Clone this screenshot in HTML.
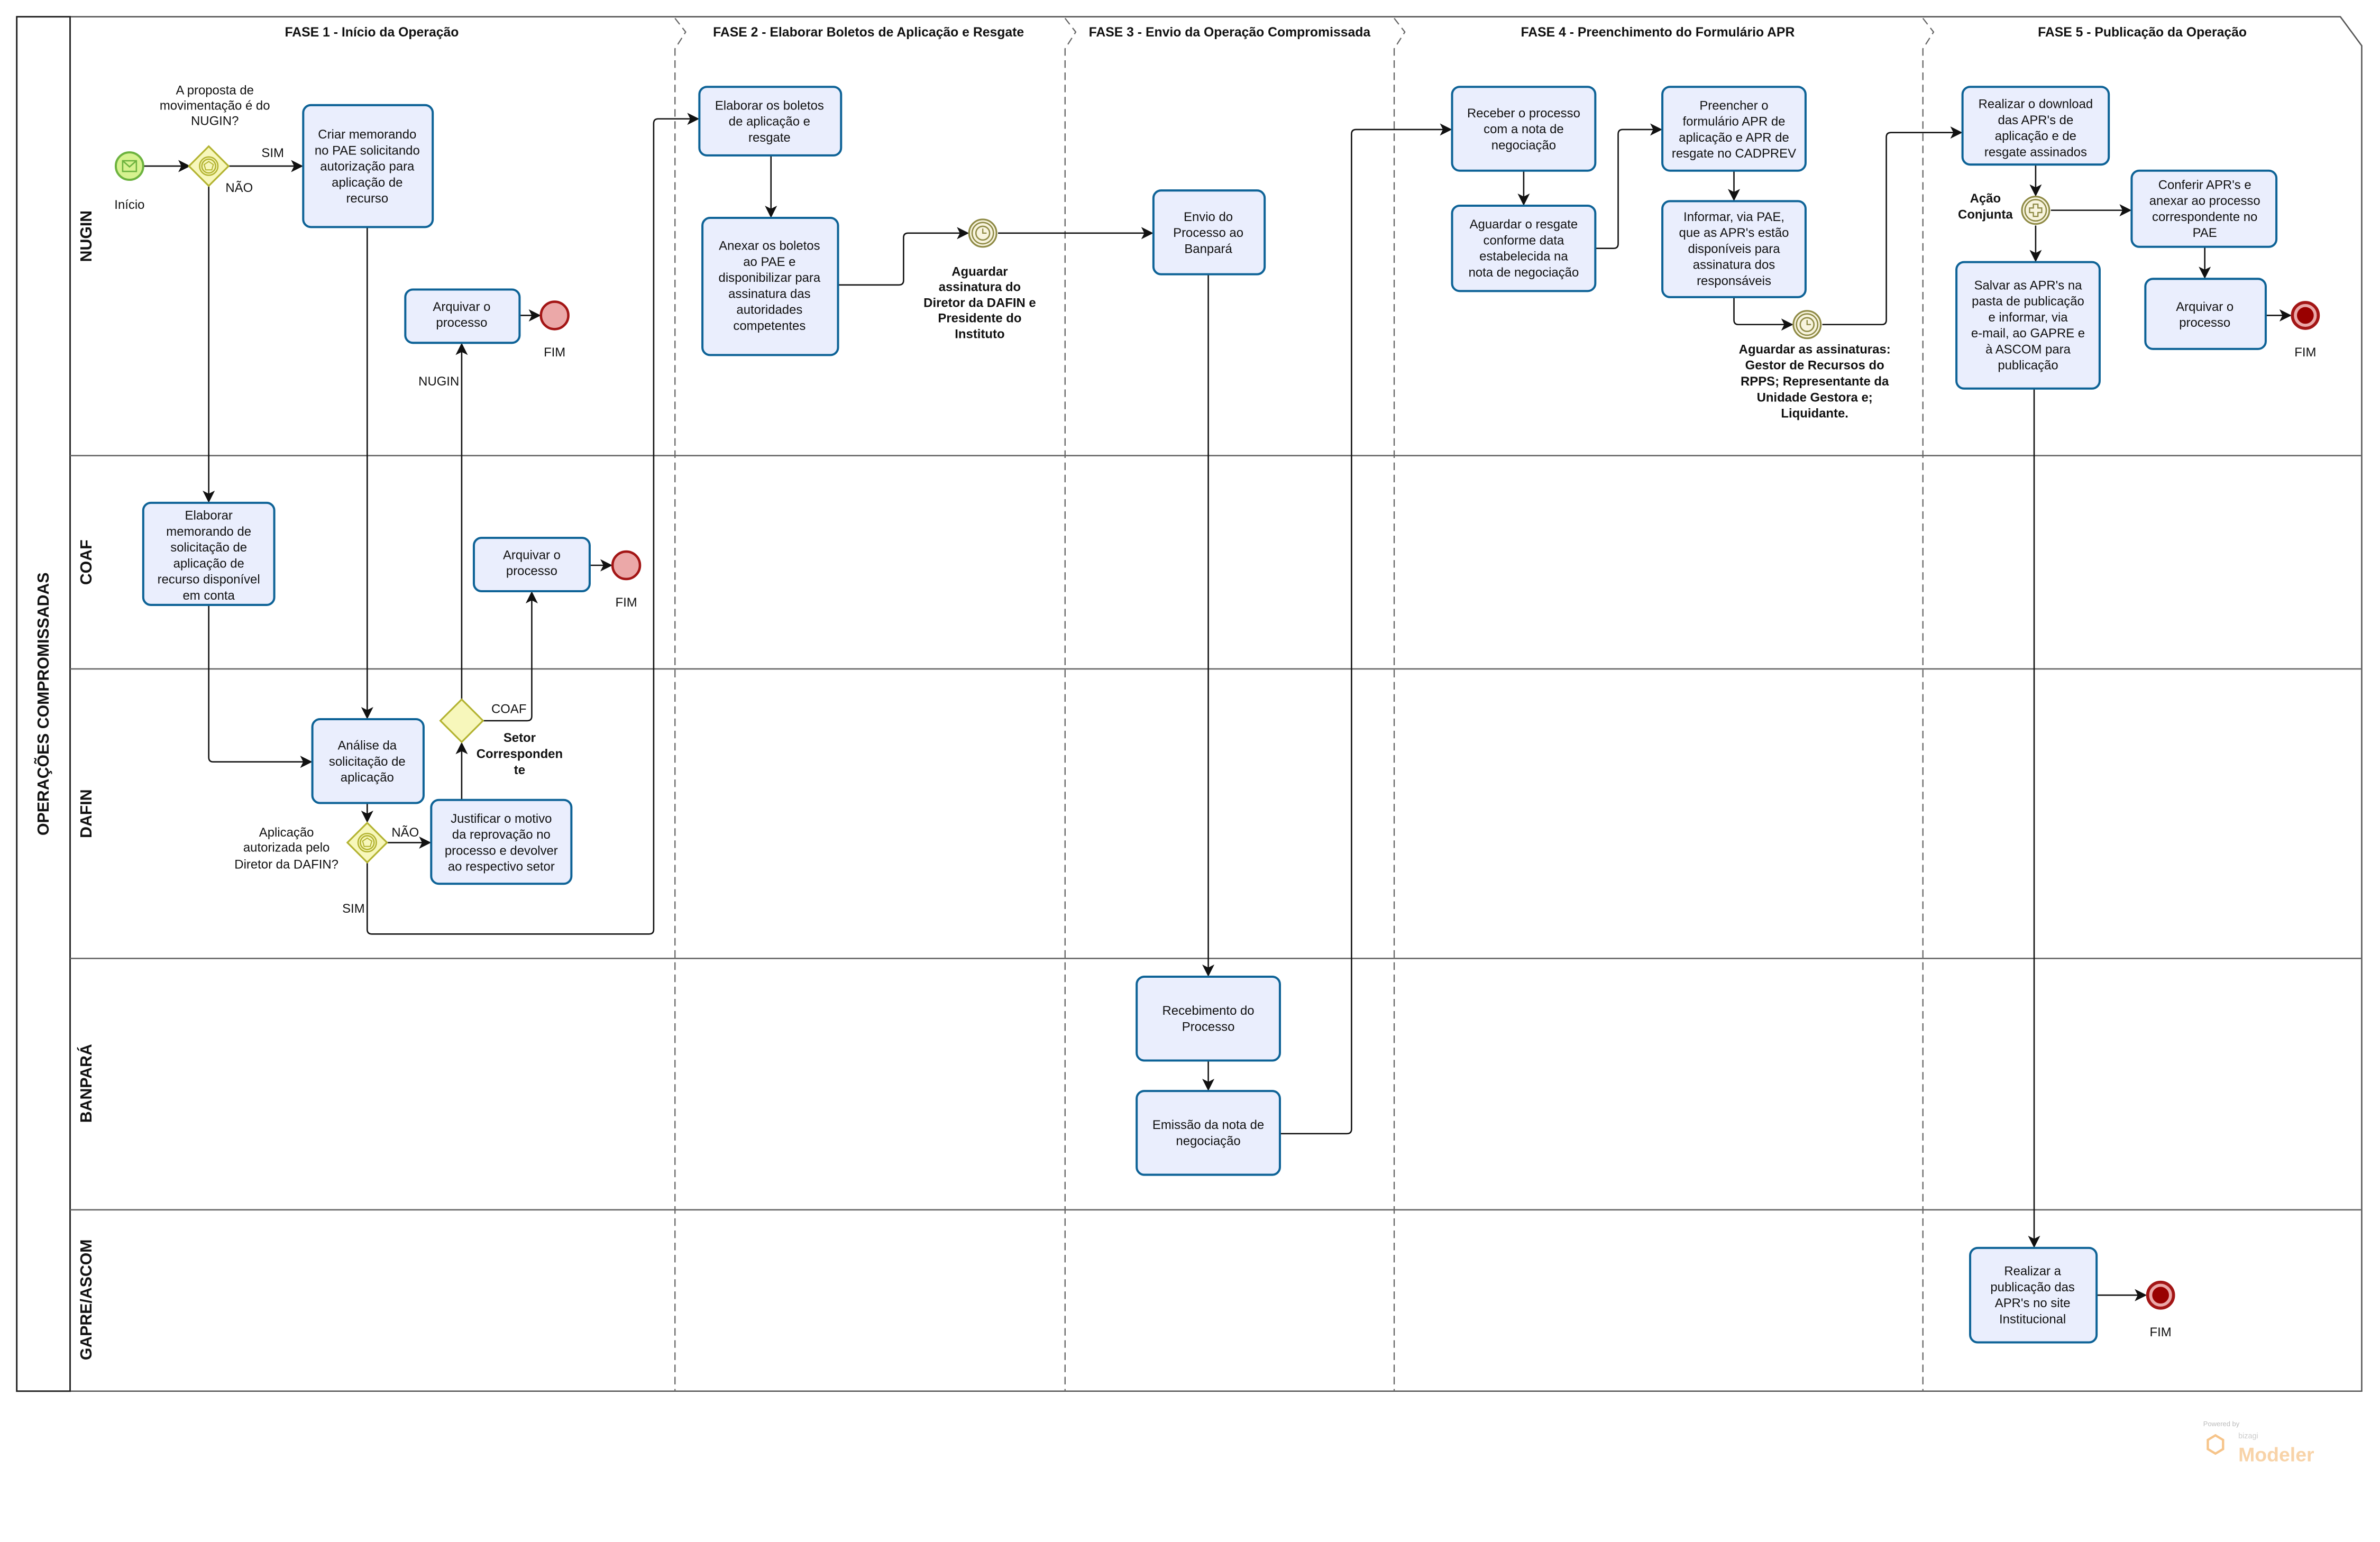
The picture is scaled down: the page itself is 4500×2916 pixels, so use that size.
<!DOCTYPE html>
<html><head><meta charset="utf-8"><style>
html,body{margin:0;padding:0;background:#fff;}
svg{display:block;}
text{font-family:"Liberation Sans",sans-serif;fill:#111;}
.t{font-size:8.3px;text-anchor:middle;}
.b{font-size:8.3px;font-weight:bold;text-anchor:middle;}
.h{font-size:8.6px;font-weight:bold;text-anchor:middle;}
.task{fill:#eaeefd;stroke:#0e6397;stroke-width:1.4;}
.ln{fill:none;stroke:#111;stroke-width:0.9;}
.dash{fill:none;stroke:#666;stroke-width:0.8;stroke-dasharray:5,3;}
.gw{fill:#f7f7bb;stroke:#b3b331;stroke-width:1.1;}
.end{fill:#eba8a8;stroke:#a31515;stroke-width:1.6;}
</style></head><body>
<svg width="4500" height="2916" viewBox="0 0 1562 1012" preserveAspectRatio="none" xmlns="http://www.w3.org/2000/svg">
<defs><marker id="a" markerWidth="8" markerHeight="8" refX="7" refY="4" orient="auto" markerUnits="userSpaceOnUse"><path d="M0,0 L8,4 L0,8 L2,4 z" fill="#111"/></marker></defs>
<rect width="1562" height="1012" fill="#fff"/>
<!-- pool -->
<path d="M11,11 L1536,11 L1550,30 L1550,913 L11,913 Z" fill="#fff" stroke="#555" stroke-width="0.9"/>
<rect x="11" y="11" width="35" height="902" fill="#fff" stroke="#222" stroke-width="1"/>
<line x1="46" y1="299" x2="1550" y2="299" stroke="#666" stroke-width="0.9"/>
<line x1="46" y1="439" x2="1550" y2="439" stroke="#666" stroke-width="0.9"/>
<line x1="46" y1="629" x2="1550" y2="629" stroke="#666" stroke-width="0.9"/>
<line x1="46" y1="794" x2="1550" y2="794" stroke="#666" stroke-width="0.9"/>
<text transform="translate(32,462) rotate(-90)" style="font-size:10.5px;font-weight:bold;text-anchor:middle">OPERAÇÕES COMPROMISSADAS</text>
<text transform="translate(60,155) rotate(-90)" style="font-size:10.5px;font-weight:bold;text-anchor:middle">NUGIN</text>
<text transform="translate(60,369) rotate(-90)" style="font-size:10.5px;font-weight:bold;text-anchor:middle">COAF</text>
<text transform="translate(60,534) rotate(-90)" style="font-size:10.5px;font-weight:bold;text-anchor:middle">DAFIN</text>
<text transform="translate(60,711) rotate(-90)" style="font-size:10.5px;font-weight:bold;text-anchor:middle">BANPARÁ</text>
<text transform="translate(60,853) rotate(-90)" style="font-size:10.5px;font-weight:bold;text-anchor:middle">GAPRE/ASCOM</text>
<!-- phase separators -->
<g class="dash">
<path d="M443,12 L450,21 L443,32 L443,913"/>
<path d="M699,12 L706,21 L699,32 L699,913"/>
<path d="M915,12 L922,21 L915,32 L915,913"/>
<path d="M1262,12 L1269,21 L1262,32 L1262,913"/>
</g>
<text class="h" x="244" y="24">FASE 1 - Início da Operação</text>
<text class="h" x="570" y="24">FASE 2 - Elaborar Boletos de Aplicação e Resgate</text>
<text class="h" x="807" y="24">FASE 3 - Envio da Operação Compromissada</text>
<text class="h" x="1088" y="24">FASE 4 - Preenchimento do Formulário APR</text>
<text class="h" x="1406" y="24">FASE 5 - Publicação da Operação</text>

<!-- connectors -->
<g class="ln">
<line x1="94" y1="109" x2="124" y2="109" marker-end="url(#a)"/>
<line x1="150" y1="109" x2="198" y2="109" marker-end="url(#a)"/>
<line x1="137" y1="122" x2="137" y2="329" marker-end="url(#a)"/>
<line x1="241" y1="149" x2="241" y2="471" marker-end="url(#a)"/>
<line x1="341" y1="207" x2="354" y2="207" marker-end="url(#a)"/>
<path d="M137,397 L137,497 Q137,500 140,500 L204,500" marker-end="url(#a)"/>
<line x1="387" y1="371" x2="401" y2="371" marker-end="url(#a)"/>
<line x1="303" y1="459" x2="303" y2="226" marker-end="url(#a)"/>
<path d="M317,473 L346,473 Q349,473 349,470 L349,389" marker-end="url(#a)"/>
<line x1="241" y1="527" x2="241" y2="539" marker-end="url(#a)"/>
<line x1="254" y1="553" x2="282" y2="553" marker-end="url(#a)"/>
<line x1="303" y1="525" x2="303" y2="488" marker-end="url(#a)"/>
<path d="M241,566 L241,610 Q241,613 244,613 L426,613 Q429,613 429,610 L429,81 Q429,78 432,78 L458,78" marker-end="url(#a)"/>
<line x1="506" y1="102" x2="506" y2="142" marker-end="url(#a)"/>
<path d="M550,187 L590,187 Q593,187 593,184 L593,156 Q593,153 596,153 L635,153" marker-end="url(#a)"/>
<line x1="655" y1="153" x2="756" y2="153" marker-end="url(#a)"/>
<line x1="793" y1="180" x2="793" y2="640" marker-end="url(#a)"/>
<line x1="793" y1="696" x2="793" y2="715" marker-end="url(#a)"/>
<path d="M840,744 L884,744 Q887,744 887,741 L887,88 Q887,85 890,85 L952,85" marker-end="url(#a)"/>
<line x1="1000" y1="112" x2="1000" y2="134" marker-end="url(#a)"/>
<path d="M1047,163 L1059,163 Q1062,163 1062,160 L1062,88 Q1062,85 1065,85 L1090,85" marker-end="url(#a)"/>
<line x1="1138" y1="112" x2="1138" y2="131" marker-end="url(#a)"/>
<path d="M1138,195 L1138,210 Q1138,213 1141,213 L1176,213" marker-end="url(#a)"/>
<path d="M1196,213 L1235,213 Q1238,213 1238,210 L1238,90 Q1238,87 1241,87 L1287,87" marker-end="url(#a)"/>
<line x1="1336" y1="108" x2="1336" y2="128" marker-end="url(#a)"/>
<line x1="1346" y1="138" x2="1398" y2="138" marker-end="url(#a)"/>
<line x1="1336" y1="148" x2="1336" y2="171" marker-end="url(#a)"/>
<line x1="1447" y1="162" x2="1447" y2="182" marker-end="url(#a)"/>
<line x1="1487" y1="207" x2="1503" y2="207" marker-end="url(#a)"/>
<line x1="1335" y1="255" x2="1335" y2="818" marker-end="url(#a)"/>
<line x1="1376" y1="850" x2="1408" y2="850" marker-end="url(#a)"/>
</g>

<!-- start event -->
<circle cx="85" cy="109" r="9" fill="#d6f28f" stroke="#6db33f" stroke-width="1.4"/>
<rect x="80.5" y="105.5" width="9" height="7" fill="none" stroke="#6db33f" stroke-width="0.9"/>
<path d="M80.5,105.5 L85,109.5 L89.5,105.5" fill="none" stroke="#6db33f" stroke-width="0.9"/>
<text class="t" x="85" y="137">Início</text>

<!-- gateway 1 -->
<path class="gw" d="M137,96 L150,109 L137,122 L124,109 Z"/>
<circle cx="137" cy="109" r="6" fill="none" stroke="#b3b331" stroke-width="0.9"/>
<circle cx="137" cy="109" r="4.5" fill="none" stroke="#b3b331" stroke-width="0.9"/>
<path d="M137,106 L140,108 L139,111.5 L135,111.5 L134,108 Z" fill="none" stroke="#b3b331" stroke-width="0.7"/>
<text class="t" x="141" y="62">A proposta de</text>
<text class="t" x="141" y="72">movimentação é do</text>
<text class="t" x="141" y="82">NUGIN?</text>
<text class="t" x="179" y="103">SIM</text>
<text class="t" x="157" y="126">NÃO</text>

<!-- tasks -->
<rect class="task" x="199" y="69" width="85" height="80" rx="5"/>
<text class="t" x="241"><tspan x="241" y="91">Criar memorando</tspan><tspan x="241" y="101.5">no PAE solicitando</tspan><tspan x="241" y="112">autorização para</tspan><tspan x="241" y="122.5">aplicação de</tspan><tspan x="241" y="133">recurso</tspan></text>

<rect class="task" x="266" y="190" width="75" height="35" rx="5"/>
<text class="t"><tspan x="303" y="204">Arquivar o</tspan><tspan x="303" y="214.5">processo</tspan></text>
<circle class="end" cx="364" cy="207" r="9"/>
<text class="t" x="364" y="234">FIM</text>
<text class="t" x="288" y="253">NUGIN</text>

<rect class="task" x="94" y="330" width="86" height="67" rx="5"/>
<text class="t"><tspan x="137" y="341">Elaborar</tspan><tspan x="137" y="351.5">memorando de</tspan><tspan x="137" y="362">solicitação de</tspan><tspan x="137" y="372.5">aplicação de</tspan><tspan x="137" y="383">recurso disponível</tspan><tspan x="137" y="393.5">em conta</tspan></text>

<rect class="task" x="311" y="353" width="76" height="35" rx="5"/>
<text class="t"><tspan x="349" y="367">Arquivar o</tspan><tspan x="349" y="377.5">processo</tspan></text>
<circle class="end" cx="411" cy="371" r="9"/>
<text class="t" x="411" y="398">FIM</text>

<rect class="task" x="205" y="472" width="73" height="55" rx="5"/>
<text class="t"><tspan x="241" y="492">Análise da</tspan><tspan x="241" y="502.5">solicitação de</tspan><tspan x="241" y="513">aplicação</tspan></text>

<path class="gw" d="M303,459 L317,473 L303,487 L289,473 Z"/>
<text class="t" x="334" y="468">COAF</text>
<text class="b"><tspan x="341" y="487">Setor</tspan><tspan x="341" y="497.5">Corresponden</tspan><tspan x="341" y="508">te</tspan></text>

<path class="gw" d="M241,540 L254,553 L241,566 L228,553 Z"/>
<circle cx="241" cy="553" r="6" fill="none" stroke="#b3b331" stroke-width="0.9"/>
<circle cx="241" cy="553" r="4.5" fill="none" stroke="#b3b331" stroke-width="0.9"/>
<path d="M241,550 L244,552 L243,555.5 L239,555.5 L238,552 Z" fill="none" stroke="#b3b331" stroke-width="0.7"/>
<text class="t"><tspan x="188" y="549">Aplicação</tspan><tspan x="188" y="559">autorizada pelo</tspan><tspan x="188" y="570">Diretor da DAFIN?</tspan></text>
<text class="t" x="266" y="549">NÃO</text>
<text class="t" x="232" y="599">SIM</text>

<rect class="task" x="283" y="525" width="92" height="55" rx="5"/>
<text class="t"><tspan x="329" y="540">Justificar o motivo</tspan><tspan x="329" y="550.5">da reprovação no</tspan><tspan x="329" y="561">processo e devolver</tspan><tspan x="329" y="571.5">ao respectivo setor</tspan></text>

<!-- Fase 2 -->
<rect class="task" x="459" y="57" width="93" height="45" rx="5"/>
<text class="t"><tspan x="505" y="72">Elaborar os boletos</tspan><tspan x="505" y="82.5">de aplicação e</tspan><tspan x="505" y="93">resgate</tspan></text>
<rect class="task" x="461" y="143" width="89" height="90" rx="5"/>
<text class="t"><tspan x="505" y="164">Anexar os boletos</tspan><tspan x="505" y="174.5">ao PAE e</tspan><tspan x="505" y="185">disponibilizar para</tspan><tspan x="505" y="195.5">assinatura das</tspan><tspan x="505" y="206">autoridades</tspan><tspan x="505" y="216.5">competentes</tspan></text>
<circle cx="645" cy="153" r="9" fill="#f8f4de" stroke="#8e8a45" stroke-width="1.1"/>
<circle cx="645" cy="153" r="7" fill="none" stroke="#8e8a45" stroke-width="0.9"/>
<circle cx="645" cy="153" r="4.5" fill="none" stroke="#8e8a45" stroke-width="0.9"/>
<path d="M645,150 L645,153 L647.5,153" fill="none" stroke="#8e8a45" stroke-width="0.8"/>
<text class="b"><tspan x="643" y="181">Aguardar</tspan><tspan x="643" y="191">assinatura do</tspan><tspan x="643" y="201.5">Diretor da DAFIN e</tspan><tspan x="643" y="211.5">Presidente do</tspan><tspan x="643" y="222">Instituto</tspan></text>

<!-- Fase 3 -->
<rect class="task" x="757" y="125" width="73" height="55" rx="5"/>
<text class="t"><tspan x="793" y="145">Envio do</tspan><tspan x="793" y="155.5">Processo ao</tspan><tspan x="793" y="166">Banpará</tspan></text>
<rect class="task" x="746" y="641" width="94" height="55" rx="5"/>
<text class="t"><tspan x="793" y="666">Recebimento do</tspan><tspan x="793" y="676.5">Processo</tspan></text>
<rect class="task" x="746" y="716" width="94" height="55" rx="5"/>
<text class="t"><tspan x="793" y="741">Emissão da nota de</tspan><tspan x="793" y="751.5">negociação</tspan></text>

<!-- Fase 4 -->
<rect class="task" x="953" y="57" width="94" height="55" rx="5"/>
<text class="t"><tspan x="1000" y="77">Receber o processo</tspan><tspan x="1000" y="87.5">com a nota de</tspan><tspan x="1000" y="98">negociação</tspan></text>
<rect class="task" x="953" y="135" width="94" height="56" rx="5"/>
<text class="t"><tspan x="1000" y="150">Aguardar o resgate</tspan><tspan x="1000" y="160.5">conforme data</tspan><tspan x="1000" y="171">estabelecida na</tspan><tspan x="1000" y="181.5">nota de negociação</tspan></text>
<rect class="task" x="1091" y="57" width="94" height="55" rx="5"/>
<text class="t"><tspan x="1138" y="72">Preencher o</tspan><tspan x="1138" y="82.5">formulário APR de</tspan><tspan x="1138" y="93">aplicação e APR de</tspan><tspan x="1138" y="103.5">resgate no CADPREV</tspan></text>
<rect class="task" x="1091" y="132" width="94" height="63" rx="5"/>
<text class="t"><tspan x="1138" y="145">Informar, via PAE,</tspan><tspan x="1138" y="155.5">que as APR's estão</tspan><tspan x="1138" y="166">disponíveis para</tspan><tspan x="1138" y="176.5">assinatura dos</tspan><tspan x="1138" y="187">responsáveis</tspan></text>
<circle cx="1186" cy="213" r="9" fill="#f8f4de" stroke="#8e8a45" stroke-width="1.1"/>
<circle cx="1186" cy="213" r="7" fill="none" stroke="#8e8a45" stroke-width="0.9"/>
<circle cx="1186" cy="213" r="4.5" fill="none" stroke="#8e8a45" stroke-width="0.9"/>
<path d="M1186,210 L1186,213 L1188.5,213" fill="none" stroke="#8e8a45" stroke-width="0.8"/>
<text class="b"><tspan x="1191" y="232">Aguardar as assinaturas:</tspan><tspan x="1191" y="242.5">Gestor de Recursos do</tspan><tspan x="1191" y="253">RPPS; Representante da</tspan><tspan x="1191" y="263.5">Unidade Gestora e;</tspan><tspan x="1191" y="274">Liquidante.</tspan></text>

<!-- Fase 5 -->
<rect class="task" x="1288" y="57" width="96" height="51" rx="5"/>
<text class="t"><tspan x="1336" y="71">Realizar o download</tspan><tspan x="1336" y="81.5">das APR's de</tspan><tspan x="1336" y="92">aplicação e de</tspan><tspan x="1336" y="102.5">resgate assinados</tspan></text>
<circle cx="1336" cy="138" r="9" fill="#f8f4de" stroke="#8e8a45" stroke-width="1.1"/>
<circle cx="1336" cy="138" r="7" fill="none" stroke="#8e8a45" stroke-width="0.9"/>
<path d="M1334.5,134 h3 v2.5 h2.5 v3 h-2.5 v2.5 h-3 v-2.5 h-2.5 v-3 h2.5 z" fill="none" stroke="#8e8a45" stroke-width="0.8"/>
<text class="b"><tspan x="1303" y="133">Ação</tspan><tspan x="1303" y="143.5">Conjunta</tspan></text>
<rect class="task" x="1399" y="112" width="95" height="50" rx="5"/>
<text class="t"><tspan x="1447" y="124">Conferir APR's e</tspan><tspan x="1447" y="134.5">anexar ao processo</tspan><tspan x="1447" y="145">correspondente no</tspan><tspan x="1447" y="155.5">PAE</tspan></text>
<rect class="task" x="1408" y="183" width="79" height="46" rx="5"/>
<text class="t"><tspan x="1447" y="204">Arquivar o</tspan><tspan x="1447" y="214.5">processo</tspan></text>
<circle cx="1513" cy="207" r="8.5" fill="#eba8a8" stroke="#a31515" stroke-width="2"/>
<circle cx="1513" cy="207" r="5.5" fill="#990000"/>
<text class="t" x="1513" y="234">FIM</text>
<rect class="task" x="1284" y="172" width="94" height="83" rx="5"/>
<text class="t"><tspan x="1331" y="190">Salvar as APR's na</tspan><tspan x="1331" y="200.5">pasta de publicação</tspan><tspan x="1331" y="211">e informar, via</tspan><tspan x="1331" y="221.5">e-mail, ao GAPRE e</tspan><tspan x="1331" y="232">à ASCOM para</tspan><tspan x="1331" y="242.5">publicação</tspan></text>
<rect class="task" x="1293" y="819" width="83" height="62" rx="5"/>
<text class="t"><tspan x="1334" y="837">Realizar a</tspan><tspan x="1334" y="847.5">publicação das</tspan><tspan x="1334" y="858">APR's no site</tspan><tspan x="1334" y="868.5">Institucional</tspan></text>
<circle cx="1418" cy="850" r="8.5" fill="#eba8a8" stroke="#a31515" stroke-width="2"/>
<circle cx="1418" cy="850" r="5.5" fill="#990000"/>
<text class="t" x="1418" y="877">FIM</text>

<!-- watermark -->
<text x="1446" y="936" style="font-size:4.5px;fill:#bbb">Powered by</text>
<path d="M1449,945 l5,-3 l5,3 v6 l-5,3 l-5,-3 z" fill="none" stroke="#f6c48a" stroke-width="1.5"/>
<text x="1469" y="944" style="font-size:5px;fill:#ccc">bizagi</text>
<text x="1469" y="959" style="font-size:13px;font-weight:bold;fill:#f8d3a8">Modeler</text>
</svg>
</body></html>
